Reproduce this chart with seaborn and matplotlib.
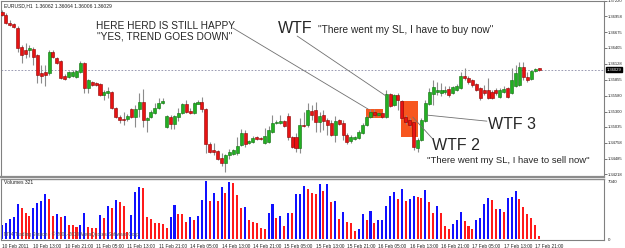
import numpy as np
import pandas as pd
import matplotlib
matplotlib.use("Agg")
import matplotlib.pyplot as plt
from matplotlib.patches import Rectangle
import seaborn as sns

# ---------------- data ----------------
symbol = "EURUSD,H1"
opens = [
    1.37029, 1.36977, 1.36838, 1.36821, 1.36751, 1.36421, 1.36369, 1.36369, 1.36386, 1.36282,
    1.35970, 1.35987, 1.35970, 1.36334, 1.36230, 1.36178, 1.35917, 1.35900, 1.35917, 1.35900,
    1.35987, 1.36143, 1.35709, 1.35813, 1.35796, 1.35778, 1.35587, 1.35622, 1.35639, 1.35361,
    1.35205, 1.35170, 1.35170, 1.35344, 1.35205, 1.35344, 1.35466, 1.35153, 1.35205, 1.35274,
    1.35361, 1.35448, 1.35031, 1.35205, 1.35083, 1.35205, 1.35274, 1.35431, 1.35309, 1.35274,
    1.35431, 1.35466, 1.35344, 1.34736, 1.34632, 1.34614, 1.34493, 1.34406, 1.34545, 1.34562,
    1.34579, 1.34718, 1.34927, 1.34753, 1.34771, 1.34857, 1.34840, 1.34753, 1.34771, 1.34944,
    1.35101, 1.35101, 1.35135, 1.35222, 1.34857, 1.34857, 1.34666, 1.35066, 1.35066, 1.35309,
    1.35327, 1.35118, 1.35240, 1.35153, 1.35101, 1.34892, 1.35153, 1.35101, 1.34892, 1.34788,
    1.34823, 1.34840, 1.34927, 1.35066, 1.35205, 1.35292, 1.35240, 1.35274, 1.35205, 1.35605,
    1.35414, 1.35587, 1.35483, 1.35205, 1.35153, 1.35118, 1.34666, 1.34805, 1.35135, 1.35431,
    1.35605, 1.35639, 1.35622, 1.35639, 1.35692, 1.35622, 1.35674, 1.35709, 1.35917, 1.35883,
    1.35848, 1.35778, 1.35709, 1.35674, 1.35674, 1.35639, 1.35674, 1.35553, 1.35639, 1.35709,
    1.35622, 1.35744, 1.35761, 1.36074, 1.35900, 1.35865, 1.36004, 1.36062]
highs = [
    1.37064, 1.37012, 1.36890, 1.36838, 1.36786, 1.36456, 1.36491, 1.36456, 1.36421, 1.36300,
    1.36109, 1.36109, 1.36369, 1.36369, 1.36248, 1.36195, 1.35952, 1.36004, 1.36022, 1.36022,
    1.36178, 1.36161, 1.35865, 1.35831, 1.35813, 1.35796, 1.35674, 1.35726, 1.35657, 1.35379,
    1.35240, 1.35292, 1.35257, 1.35361, 1.35414, 1.35622, 1.35692, 1.35205, 1.35327, 1.35448,
    1.35535, 1.35535, 1.35240, 1.35240, 1.35240, 1.35361, 1.35448, 1.35500, 1.35361, 1.35466,
    1.35500, 1.35553, 1.35361, 1.34771, 1.34753, 1.34632, 1.34579, 1.34562, 1.34649, 1.34649,
    1.34857, 1.34996, 1.34979, 1.34805, 1.34875, 1.34875, 1.34857, 1.35014, 1.35049, 1.35240,
    1.35153, 1.35240, 1.35153, 1.35274, 1.34875, 1.34927, 1.35188, 1.35292, 1.35448, 1.35414,
    1.35466, 1.35292, 1.35327, 1.35188, 1.35153, 1.35222, 1.35170, 1.35153, 1.34927, 1.34892,
    1.34875, 1.34979, 1.35101, 1.35240, 1.35344, 1.35344, 1.35292, 1.35292, 1.35674, 1.35622,
    1.35605, 1.35622, 1.35500, 1.35240, 1.35188, 1.35135, 1.34840, 1.35188, 1.35500, 1.35709,
    1.35848, 1.35813, 1.35796, 1.35744, 1.35744, 1.35744, 1.35778, 1.35987, 1.36056, 1.35917,
    1.35865, 1.35796, 1.35726, 1.35761, 1.35883, 1.35674, 1.35709, 1.35709, 1.35744, 1.35726,
    1.36056, 1.36109, 1.36161, 1.36161, 1.35987, 1.36022, 1.36056, 1.36064]
lows = [
    1.36960, 1.36821, 1.36786, 1.36751, 1.36334, 1.36143, 1.36230, 1.36248, 1.36109, 1.35796,
    1.35796, 1.35744, 1.35935, 1.36230, 1.36126, 1.35865, 1.35848, 1.35883, 1.35900, 1.35883,
    1.35970, 1.35622, 1.35622, 1.35744, 1.35744, 1.35570, 1.35500, 1.35535, 1.35344, 1.35188,
    1.35101, 1.35066, 1.35135, 1.35188, 1.35031, 1.35205, 1.35031, 1.34944, 1.35188, 1.35257,
    1.35344, 1.35431, 1.35014, 1.34996, 1.34996, 1.35135, 1.35257, 1.35274, 1.35257, 1.35257,
    1.35431, 1.35292, 1.34579, 1.34579, 1.34545, 1.34458, 1.34354, 1.34249, 1.34475, 1.34545,
    1.34545, 1.34701, 1.34684, 1.34736, 1.34753, 1.34805, 1.34805, 1.34736, 1.34753, 1.34927,
    1.35083, 1.35083, 1.35031, 1.34805, 1.34666, 1.34597, 1.34579, 1.35031, 1.35031, 1.35153,
    1.34944, 1.34944, 1.34979, 1.34892, 1.34875, 1.34771, 1.35066, 1.34805, 1.34736, 1.34753,
    1.34805, 1.34823, 1.34910, 1.35049, 1.35188, 1.35205, 1.35222, 1.35188, 1.35188, 1.35379,
    1.35396, 1.35327, 1.35170, 1.35083, 1.35031, 1.34632, 1.34597, 1.34788, 1.35118, 1.35414,
    1.35414, 1.35587, 1.35570, 1.35605, 1.35553, 1.35605, 1.35657, 1.35692, 1.35848, 1.35778,
    1.35726, 1.35657, 1.35500, 1.35587, 1.35518, 1.35518, 1.35587, 1.35535, 1.35622, 1.35535,
    1.35605, 1.35726, 1.35744, 1.35848, 1.35813, 1.35848, 1.35987, 1.36006]
closes = [
    1.36977, 1.36838, 1.36803, 1.36769, 1.36404, 1.36282, 1.36300, 1.36404, 1.36248, 1.35935,
    1.35917, 1.35935, 1.36334, 1.36248, 1.36143, 1.35883, 1.35865, 1.35987, 1.35987, 1.36004,
    1.36143, 1.35709, 1.35848, 1.35761, 1.35761, 1.35587, 1.35639, 1.35657, 1.35361, 1.35205,
    1.35153, 1.35153, 1.35222, 1.35205, 1.35344, 1.35466, 1.35153, 1.35188, 1.35292, 1.35361,
    1.35448, 1.35483, 1.35222, 1.35083, 1.35222, 1.35274, 1.35431, 1.35292, 1.35274, 1.35448,
    1.35466, 1.35344, 1.34736, 1.34597, 1.34597, 1.34475, 1.34406, 1.34545, 1.34597, 1.34632,
    1.34701, 1.34927, 1.34736, 1.34788, 1.34840, 1.34823, 1.34823, 1.34875, 1.34979, 1.35101,
    1.35118, 1.35135, 1.35049, 1.34857, 1.34684, 1.34666, 1.35066, 1.35049, 1.35327, 1.35240,
    1.35118, 1.35222, 1.35135, 1.35066, 1.34892, 1.35135, 1.35083, 1.34892, 1.34771, 1.34857,
    1.34857, 1.34944, 1.35066, 1.35205, 1.35292, 1.35240, 1.35274, 1.35205, 1.35605, 1.35396,
    1.35587, 1.35500, 1.35188, 1.35118, 1.35066, 1.34684, 1.34805, 1.35153, 1.35448, 1.35639,
    1.35726, 1.35674, 1.35674, 1.35674, 1.35587, 1.35726, 1.35744, 1.35917, 1.35883, 1.35813,
    1.35761, 1.35674, 1.35535, 1.35622, 1.35535, 1.35535, 1.35622, 1.35674, 1.35692, 1.35553,
    1.35848, 1.35970, 1.36074, 1.35900, 1.35848, 1.36004, 1.36039, 1.36029]
volumes = [
    1700, 1980, 2430, 2710, 4250, 3760, 3190, 2790, 3760, 4410,
    4610, 5460, 4860, 2790, 3040, 2630, 2790, 1700, 1690, 1420,
    1700, 3190, 1420, 1370, 1360, 2910, 2510, 4010, 3800, 4730,
    4490, 4040, 890, 2910, 5740, 6350, 6150, 2700, 2430, 1980,
    1900, 1780, 1300, 2710, 4130, 3040, 3030, 2100, 2710, 2310,
    2830, 4730, 7040, 4650, 5580, 4610, 6280, 5580, 6880, 6760,
    5300, 3800, 3900, 2310, 2030, 1910, 1370, 1180, 3120, 4210,
    2510, 2790, 1580, 3190, 3120, 5430, 5460, 6470, 6030, 5550,
    5500, 6680, 5860, 6690, 4460, 4610, 2430, 3240, 2030, 1910,
    970, 1180, 3000, 2310, 3440, 1910, 2310, 2340, 4010, 5220,
    5670, 4820, 6030, 4610, 4820, 5220, 5060, 5010, 5950, 4460,
    3120, 4010, 3120, 1580, 1180, 1820, 2310, 3310, 2190, 1580,
    1210, 2310, 2510, 4210, 4940, 4730, 3610, 3640, 3310, 4940,
    5140, 5830, 4820, 3850, 3000, 2510, 1700, 321]
price_ticks = [1.37220, 1.36958, 1.36675, 1.36405, 1.36128, 1.35855,
               1.35580, 1.35300, 1.35035, 1.34758, 1.34485, 1.34218]
volume_ticks = [0, 7040]
start_time = "2011-02-10 05:00"
end_time = "2011-02-17 22:00"

# ---------------- style ----------------
sns.set_style("white")
plt.rcParams["font.family"] = ["Liberation Sans", "DejaVu Sans"]

times = pd.date_range(start_time, end_time, freq="h")
times = times[times.dayofweek < 5]
n = len(opens)
idx = np.arange(n)
o = np.array(opens); h = np.array(highs); l = np.array(lows); c = np.array(closes)
up = c >= o

fig = plt.figure(figsize=(6.25, 2.48), dpi=100)
W, H = 625.0, 248.0
ax = fig.add_axes([1.5 / W, (H - 177) / H, 602.5 / W, 176 / H])
axv = fig.add_axes([1.5 / W, (H - 239.5) / H, 602.5 / W, 60.5 / H])

XL = (-0.13, 153.57)

# candles
ax.vlines(idx, l, h, color="#8c8c8c", lw=0.8, zorder=2)
body_lo = np.minimum(o, c)
body_h = np.maximum(np.abs(c - o), 0.00004)
ax.bar(idx[up], body_h[up], bottom=body_lo[up], width=0.78,
       color="#22b022", edgecolor="#0d6e0d", lw=0.4, zorder=3)
ax.bar(idx[~up], body_h[~up], bottom=body_lo[~up], width=0.78,
       color="#e81212", edgecolor="#8b0000", lw=0.4, zorder=3)

# orange highlight boxes
for x0, x1, y0, y1 in [(92.9, 97.2, 1.35188, 1.35344), (101.8, 106.1, 1.34857, 1.35483)]:
    ax.add_patch(Rectangle((x0, y0), x1 - x0, y1 - y0, facecolor="#f7561e",
                           edgecolor="none", zorder=1))

# current price line
cur = closes[-1]
ax.axhline(cur, color="#8a8aa6", lw=0.6, ls=(0, (2, 2)), zorder=1)

ax.set_xlim(*XL)
ax.set_ylim(1.34166, 1.37220)
ax.set_xticks([])
ax.yaxis.tick_right()
ax.set_yticks(price_ticks)
ax.set_yticklabels([f"{v:.5f}" for v in price_ticks])
ax.tick_params(axis="y", length=2.0, width=0.5, pad=0.8, labelsize=3.0,
               color="#404040", labelcolor="#202020")
for s in ["left", "top", "right"]:
    ax.spines[s].set_color("#808080"); ax.spines[s].set_linewidth(0.8)
ax.spines["bottom"].set_color("#8c8c8c"); ax.spines["bottom"].set_linewidth(1.6)
ax.text(1.0045, cur, f"{cur:.5f}", transform=ax.get_yaxis_transform(), ha="left",
        va="center", fontsize=3.0, color="white",
        bbox=dict(boxstyle="square,pad=0.18", fc="black", ec="black"), zorder=6)

# header
fig.text(4 / W, 1 - 5.5 / H, f"{symbol}  {opens[-1]:.5f} {highs[-1]:.5f} {lows[-1]:.5f} {closes[-1]:.5f}",
         fontsize=3.6, va="center", ha="left", color="#202020")

# annotations
line_kw = dict(arrowstyle="-", color="#707070", lw=0.6, shrinkA=0, shrinkB=0)
ax.annotate("", xy=(93.4, 1.35344), xytext=(58.9, 1.36751), arrowprops=line_kw, zorder=4)
ax.annotate("", xy=(98.0, 1.35570), xytext=(75.3, 1.36612), arrowprops=line_kw, zorder=4)
ax.annotate("", xy=(108.4, 1.35240), xytext=(123.7, 1.35135), arrowprops=line_kw, zorder=4)
ax.annotate("", xy=(104.8, 1.35205), xytext=(109.7, 1.34840), arrowprops=line_kw, zorder=4)

ax.text(41.6, 1.36691, "HERE HERD IS STILL HAPPY\n\"YES, TREND GOES DOWN\"", ha="center",
        va="center", fontsize=7.3, linespacing=1.1, zorder=5)
ax.text(70.4, 1.36660, "WTF", ha="left", va="baseline", fontsize=11.5, zorder=5)
ax.text(80.6, 1.36665, "\"There went my SL, I have to buy now\"", ha="left", va="baseline",
        fontsize=7.3, zorder=5)
ax.text(124.0, 1.34996, "WTF 3", ha="left", va="baseline", fontsize=11.5, zorder=5)
ax.text(109.7, 1.34640, "WTF 2", ha="left", va="baseline", fontsize=11.5, zorder=5)
ax.text(108.4, 1.34406, "\"There went my SL, I have to sell now\"", ha="left", va="baseline",
        fontsize=6.8, zorder=5)

# volumes
vol = np.array(volumes)
prev = np.concatenate([[0], vol[:-1]])
dfv = pd.DataFrame({"idx": idx, "vol": vol, "dir": np.where(vol >= prev, "up", "down")})
sns.barplot(data=dfv, x="idx", y="vol", hue="dir", palette={"up": "#1010ff", "down": "#ff1a1a"},
            native_scale=True, width=0.52, dodge=False, errorbar=None, legend=False,
            saturation=1, linewidth=0, antialiased=False, ax=axv)
axv.set_xlim(*XL)
axv.set_ylim(-60, 7283)
axv.set_xlabel(""); axv.set_ylabel("")
axv.yaxis.tick_right()
axv.set_yticks(volume_ticks)
axv.set_yticklabels([str(v) for v in volume_ticks])
axv.tick_params(axis="y", length=0, pad=3, labelsize=3.2, labelcolor="#202020")
tick_idx = np.arange(0, n, 8)
tick_lbl = [times[0].strftime("%d %b %Y")] + [times[i].strftime("%d %b %H:%M") for i in tick_idx[1:]]
axv.set_xticks(tick_idx)
axv.set_xticklabels(tick_lbl, ha="left")
axv.tick_params(axis="x", length=3, width=0.5, pad=0.5, labelsize=3.4, color="#404040",
                labelcolor="#202020")
for s in ["left", "right", "bottom"]:
    axv.spines[s].set_color("#808080"); axv.spines[s].set_linewidth(0.8)
axv.spines["top"].set_color("#8c8c8c"); axv.spines["top"].set_linewidth(1.0)
axv.text(0.0035, 0.95, f"Volumes {volumes[-1]}", transform=axv.transAxes, fontsize=3.6,
         va="center", ha="left", color="#202020")
axv.text(0.0035, 0.09, "MT4 Trading Station - \u00a9 2001-2010 MetaQuotes Software Corp.",
         transform=axv.transAxes, fontsize=3.4, va="center", ha="left", color="#505050")

fig.savefig("out.png", dpi=100, facecolor="white")
